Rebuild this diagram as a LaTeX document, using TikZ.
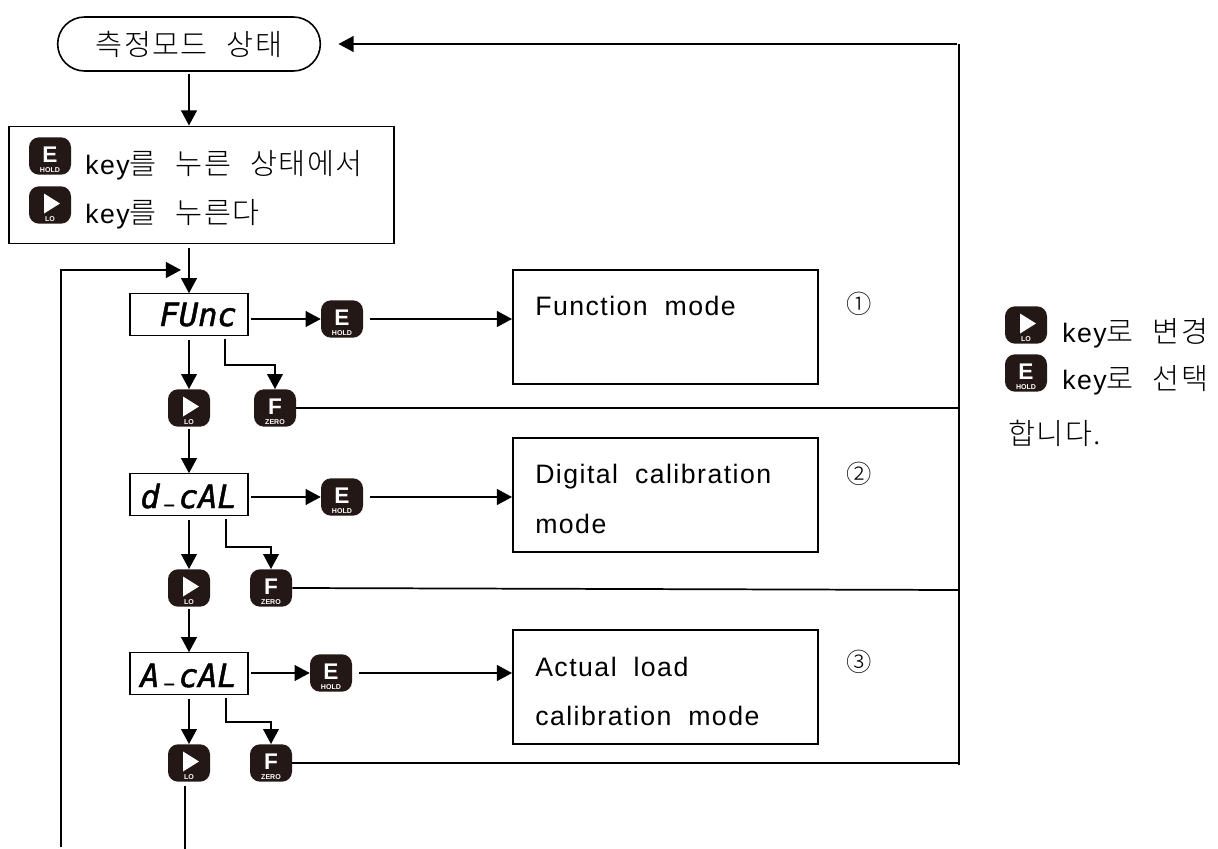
\documentclass[tikz,border=0pt]{standalone}
\usepackage{fontspec}
\usetikzlibrary{arrows.meta,shapes.misc,calc}
\setmainfont{Liberation Sans}
\newfontfamily\latfont[LetterSpace=5.5,WordSpace=1.9]{Liberation Sans}
\newfontfamily\krfont[LetterSpace=5,WordSpace=2.4]{Noto Sans CJK KR Light}
\newfontfamily\segfont[FakeBold=1.5]{DejaVu Sans Mono Oblique}
\newcommand{\han}[1]{{\krfont\fontsize{22}{24}\selectfont #1}}
\newcommand{\segdash}{\makebox[0.602em]{\raisebox{7pt}{\scalebox{0.5}[1]{\_}}}}
\newcommand{\keytext}[2]{\makebox[0pt]{\smash{\raisebox{-4.75pt}{\fontsize{17}{17}\bfseries\selectfont #1}}}\makebox[0pt]{\smash{\raisebox{-12.25pt}{\fontsize{5.3}{6}\bfseries\selectfont #2}}}}
\definecolor{keyblack}{HTML}{231815}
\tikzset{
  keyicon/.style={fill=keyblack,text=white,rounded corners=7.5pt,minimum width=31.5pt,minimum height=28pt,inner sep=0pt},
  keyplay/.style={keyicon,path picture={\fill[white,sharp corners] ($(path picture bounding box.center)+(-6,-11.5)$) -- ($(path picture bounding box.center)+(10,-1.5)$) -- ($(path picture bounding box.center)+(-6,8.5)$) -- cycle;}},
  plainbox/.style={draw=black,line width=1.2pt,inner sep=0pt,fill=white},
  modebox/.style={plainbox,minimum width=229pt,minimum height=85.5pt},
  segbox/.style={draw=black,line width=0.9pt,inner sep=0pt,minimum width=88.5pt,minimum height=31pt,fill=white},
  segtext/.style={anchor=base east,inner sep=0pt,font=\segfont\fontsize{24}{26}\selectfont},
  kr/.style={anchor=base west,inner sep=0pt,font=\latfont\fontsize{20}{24}\selectfont},
  circ/.style={anchor=center,inner sep=0pt,font=\krfont\fontsize{19}{22}\selectfont},
  flow/.style={draw=black,line width=1.3pt,-{Triangle[length=11.3pt,width=11.8pt]},shorten <=1.5pt},
  wire/.style={draw=black,line width=1.3pt},
}
\begin{document}
\begin{tikzpicture}[x=0.75pt,y=-0.75pt]
\useasboundingbox (0,0) rectangle (1218,849);
% main blocks
\node[draw=black,line width=1.2pt,rounded rectangle,minimum width=197pt,minimum height=40.5pt,inner sep=0pt,font=\latfont\fontsize{20}{24}\selectfont] (start) at (189,44) {\han{측정모드 상태}};
\node[plainbox,minimum width=288.75pt,minimum height=88pt] (press) at (201.5,185) {};
\node[keyplay] (pressP) at (50,205) {\keytext{}{LO}};
\node[keyicon] (pressE) at (50,156) {\keytext{E}{HOLD}};
\node[kr] (pressT1) at (85,174) {key\han{를 누른 상태에서}};
\node[kr] (pressT2) at (85,223) {key\han{를 누른다}};
% row 1
\node[segbox] (func) at (189,314.5) {};
\node[segtext] (funcT) at (237,326) {FUnc};
\node[keyicon] (e1) at (342,319) {\keytext{E}{HOLD}};
\node[modebox] (m1) at (665.5,327) {};
\node[kr] (m1T) at (535,315) {Function mode};
\node[circ] (c1) at (859,304) {①};
\node[keyplay] (p1) at (189,408) {\keytext{}{LO}};
\node[keyicon] (f1) at (275,408) {\keytext{F}{ZERO}};
% row 2
\node[segbox] (dcal) at (189,494.5) {};
\node[segtext] (dcalT) at (237,508) {d\segdash cAL};
\node[keyicon] (e2) at (342,497) {\keytext{E}{HOLD}};
\node[modebox] (m2) at (665.5,495) {};
\node[kr] (m2T1) at (535,483) {Digital calibration};
\node[kr] (m2T2) at (535,533) {mode};
\node[circ] (c2) at (859,474) {②};
\node[keyplay] (p2) at (189,588) {\keytext{}{LO}};
\node[keyicon] (f2) at (271,588) {\keytext{F}{ZERO}};
% row 3
\node[segbox] (acal) at (189,673.5) {};
\node[segtext] (acalT) at (237,687) {A\segdash cAL};
\node[keyicon] (e3) at (331,673) {\keytext{E}{HOLD}};
\node[modebox] (m3) at (665.5,687) {};
\node[kr] (m3T1) at (535,676) {Actual load};
\node[kr] (m3T2) at (535,725) {calibration mode};
\node[circ] (c3) at (859,662) {③};
\node[keyplay] (p3) at (189,763) {\keytext{}{LO}};
\node[keyicon] (f3) at (271,763) {\keytext{F}{ZERO}};
% legend
\node[keyplay] (legP) at (1026,325) {\keytext{}{LO}};
\node[keyicon] (legE) at (1026,373) {\keytext{E}{HOLD}};
\node[kr] (legT1) at (1062,342) {key\han{로 변경}};
\node[kr] (legT2) at (1062,389) {key\han{로 선택}};
\node[kr] (legT3) at (1008,444) {\han{합니다.}};
% free coordinates
\coordinate (busTop) at (959,44);
\coordinate (busBot) at (959,765);
\coordinate (loopBot) at (61,849);
\coordinate (loopTip) at (181,270);
\coordinate (exit) at (185,849);
% connectors
\draw[flow] (start.south) -- (start.south |- press.north);
\draw[flow,shorten <=3pt] (press.south -| func.north) -- (func.north);
\draw[flow] (loopBot) -- (loopBot |- loopTip) -- (loopTip);
\draw[wire] (busBot) -- (busTop);
\draw[flow,shorten >=13pt] (busTop) -- (start.east);
% row 1
\draw[flow] (func.east |- e1.west) -- (e1.west);
\draw[flow,shorten <=5pt] (e1.east) -- (m1.west |- e1.east);
\draw[flow,shorten <=3pt] (func.south) -- (p1.north);
\draw[flow] ($(func.south)+(36,1)$) |- ($(f1.north)+(0,-24)$) -- (f1.north);
\draw[wire] (f1.east) -- (f1.east -| busBot);
\draw[flow] (p1.south) -- (dcal.north);
% row 2
\draw[flow] (dcal.east |- e2.west) -- (e2.west);
\draw[flow,shorten <=5pt] (e2.east) -- (m2.west |- e2.east);
\draw[flow,shorten <=3pt] (dcal.south) -- (p2.north);
\draw[flow] ($(dcal.south)+(37,1)$) |- ($(f2.north)+(0,-22)$) -- (f2.north);
\draw[wire] (f2.east) -- ($(f2.east -| busBot)+(0,2)$);
\draw[flow] (p2.south) -- (acal.north);
% row 3
\draw[flow] (acal.east |- e3.west) -- (e3.west);
\draw[flow,shorten <=5pt] (e3.east) -- (m3.west |- e3.east);
\draw[flow,shorten <=3pt] (acal.south) -- (p3.north);
\draw[flow] ($(acal.south)+(37,1)$) |- ($(f3.north)+(0,-22)$) -- (f3.north);
\draw[wire] (f3.east) -- (f3.east -| busBot);
\draw[wire,shorten <=3pt] (p3.south -| exit) -- (exit);
\end{tikzpicture}
\end{document}
